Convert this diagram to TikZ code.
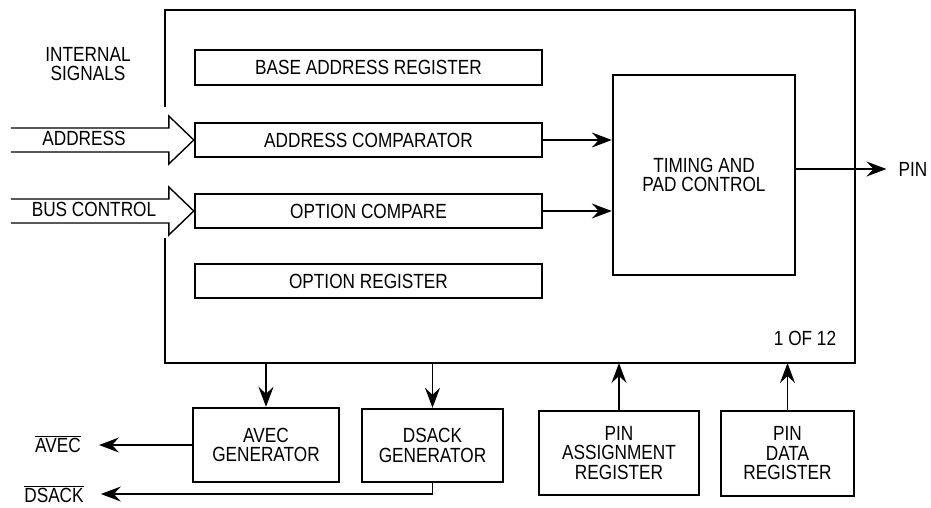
\documentclass[tikz,border=0pt]{standalone}
\usepackage{fontspec}
\setmainfont{Liberation Sans}[FakeStretch=0.84]
\usetikzlibrary{arrows.meta,calc}

\begin{document}
\begin{tikzpicture}[x=1pt,y=-1pt,
  font=\fontsize{20.5}{19.5}\selectfont,
  blk/.style={draw,line width=2.4pt,inner sep=0pt,align=center},
  sig/.style={line width=1.4pt},
  arr/.style={sig,-{Stealth[length=20pt,width=15pt,inset=7pt]}},
  lbl/.style={inner sep=0pt,align=center}]
\useasboundingbox (0,0) rectangle (931,507);
%
% outer block, left side open for the buses
\draw[line width=2.6pt] (165,107) -- (165,10) -- (855,10) -- (855,363) -- (165,363) -- (165,238);
\coordinate (mainsw) at (165,363);
\node[lbl] (intsig) at (88,64) {INTERNAL\\SIGNALS};
\node[lbl] (cnt) at (805,338) {1 OF 12};

% registers and comparators
\node[blk,minimum width=347pt,minimum height=35pt] (bar) at (368.5,67.5) {BASE ADDRESS REGISTER};
\node[blk,minimum width=347pt,minimum height=34pt] (acmp) at (368.5,140) {ADDRESS COMPARATOR};
\node[blk,minimum width=347pt,minimum height=34pt] (ocmp) at (368.5,211) {OPTION COMPARE};
\node[blk,minimum width=347pt,minimum height=34pt] (oreg) at (368.5,281) {OPTION REGISTER};
\node[blk,minimum width=182pt,minimum height=200pt] (tpc) at (704,175) {TIMING AND\\PAD CONTROL};

% buses in
\foreach \n in {acmp,ocmp} {
\draw[sig] ($(\n.west)+(-183,-12)$) -- ($(\n.west)+(-25,-12)$) -- ($(\n.west)+(-25,-24)$) -- (\n.west)
  -- ($(\n.west)+(-25,24)$) -- ($(\n.west)+(-25,12)$) -- ($(\n.west)+(-183,12)$);
\draw[arr] (\n.east) -- (\n.east -| tpc.west);
}
\node[lbl] (addr) at (84,138) {ADDRESS};
\node[lbl] (bus) at (94,209) {BUS CONTROL};

% pin out
\node[lbl] (pin) at (913,169) {PIN};
\draw[arr,shorten >=12pt] (tpc.east |- pin.west) -- (pin.west);

% generators and pin registers
\node[blk,minimum width=146pt,minimum height=74pt] (avec) at (266,445) {AVEC\\GENERATOR};
\node[blk,minimum width=141pt,minimum height=73pt] (dsack) at (432.5,445.5) {DSACK\\GENERATOR};
\node[blk,minimum width=160pt,minimum height=84pt] (pasg) at (619,453) {PIN\\ASSIGNMENT\\REGISTER};
\node[blk,minimum width=133pt,minimum height=85pt] (pdat) at (787.5,453.5) {PIN\\DATA\\REGISTER};

\draw[arr] (avec.north |- mainsw) -- (avec.north);
\draw[arr] (dsack.north |- mainsw) -- (dsack.north);
\draw[arr] (pasg.north) -- (pasg.north |- mainsw);
\draw[arr] (pdat.north) -- (pdat.north |- mainsw);

% outputs
\node[lbl] (avecl) at (58,444) {$\overline{\hbox{AVEC}}$};
\node[lbl] (dsackl) at (54,494) {$\overline{\hbox{DSACK}}$};
\draw[arr,shorten >=18pt] (avec.west) -- (avec.west -| avecl.east);
\draw[arr,shorten >=17pt] (dsack.south) |- (dsackl.east);
\end{tikzpicture}
\end{document}
